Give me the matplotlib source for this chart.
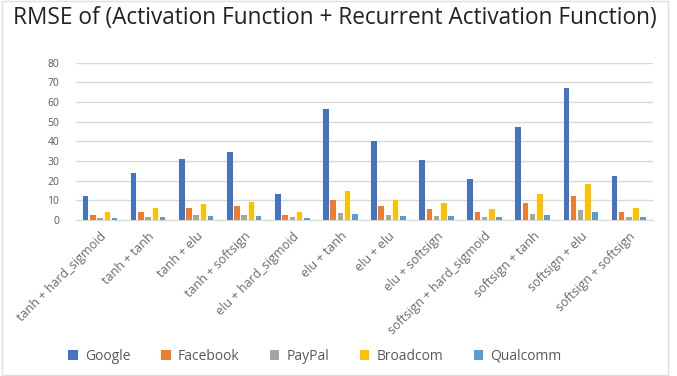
import matplotlib
matplotlib.use("Agg")
import matplotlib.pyplot as plt
import numpy as np
from matplotlib.patches import Rectangle

categories = ["tanh + hard_sigmoid", "tanh + tanh", "tanh + elu", "tanh + softsign",
              "elu + hard_sigmoid", "elu + tanh", "elu + elu", "elu + softsign",
              "softsign + hard_sigmoid", "softsign + tanh", "softsign + elu", "softsign + softsign"]
google = [12.2, 23.7, 31.0, 34.6, 13.4, 56.3, 40.0, 30.4, 20.9, 47.1, 67.1, 22.4]
facebook = [2.7, 3.9, 6.1, 6.9, 2.7, 10.3, 6.9, 5.6, 4.2, 8.6, 12.2, 4.2]
paypal = [1.0, 1.5, 2.7, 2.7, 1.5, 3.7, 2.7, 2.0, 1.4, 3.2, 5.1, 1.4]
broadcom = [3.9, 6.1, 8.0, 9.3, 4.2, 14.6, 10.3, 8.6, 5.6, 13.1, 18.3, 6.1]
qualcomm = [0.8, 1.5, 2.0, 2.0, 0.8, 3.2, 2.2, 2.2, 1.4, 2.7, 3.9, 1.4]
series_names = ["Google", "Facebook", "PayPal", "Broadcom", "Qualcomm"]
yticks = [0, 10, 20, 30, 40, 50, 60, 70, 80]
title = "RMSE of (Activation Function + Recurrent Activation Function)"

colors = ["#4472C4", "#ED7D31", "#A5A5A5", "#FFC000", "#5B9BD5"]
series = [google, facebook, paypal, broadcom, qualcomm]

plt.rcParams['font.family'] = ['Open Sans', 'DejaVu Sans']
fig = plt.figure(figsize=(6.77, 3.76), dpi=100)
fig.patches.append(Rectangle((0.003, 0.003), 0.984, 0.994, transform=fig.transFigure,
                             fill=False, edgecolor="#E0E0E0", linewidth=1.0))
ax = fig.add_axes([0.1123, 0.415, 0.852, 0.418])

x = np.arange(len(categories))
step = 0.15
width = 0.115
for i, (vals, c, n) in enumerate(zip(series, colors, series_names)):
    ax.bar(x + (i - 2) * step, vals, width=width, color=c, label=n, zorder=3)

ax.set_xlim(-0.5, len(categories) - 0.5)
ax.set_ylim(0, 80)
ax.set_yticks(yticks)
ax.set_yticklabels([str(t) for t in yticks])
ax.yaxis.grid(True, color="#D9D9D9", linewidth=1.0, zorder=0)
ax.set_axisbelow(True)
for s in ["top", "right", "left"]:
    ax.spines[s].set_visible(False)
ax.spines["bottom"].set_color("#D9D9D9")
ax.tick_params(axis="y", length=0, labelsize=7.5, labelcolor="#595959", pad=12)
ax.tick_params(axis="x", length=0, labelsize=9, labelcolor="#6a6a6a", pad=7)
ax.set_xticks(x)
ax.set_xticklabels(categories, rotation=45, ha="right", rotation_mode="anchor")

fig.text(0.494, 0.952, title, ha="center", va="center", fontsize=16.3, color="#222222")

leg = fig.legend(loc="center", bbox_to_anchor=(0.465, 0.052), ncol=5, frameon=False,
                 fontsize=10, handlelength=0.7, handleheight=0.7, columnspacing=2.2,
                 handletextpad=0.5)
for t in leg.get_texts():
    t.set_color("#595959")

fig.savefig("out.png", dpi=100)
